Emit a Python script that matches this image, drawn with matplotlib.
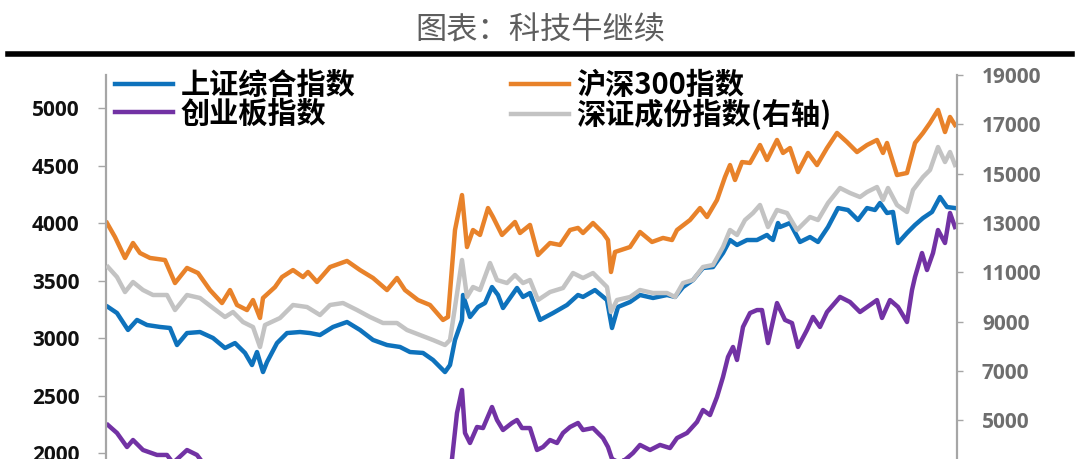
import matplotlib.pyplot as plt
from matplotlib.lines import Line2D

# trading-day index (approx.) and index levels
sh_days = [2, 11, 22, 31, 41, 54, 64, 71, 81, 94, 107, 119, 129, 139, 146, 151, 157, 161, 171, 181,
           194, 204, 214, 227, 241, 254, 267, 281, 294, 304, 317, 327, 339, 344, 349, 356, 357, 364,
           372, 379, 386, 392, 397, 411, 417, 424, 434, 447, 461, 472, 477, 489, 501, 506, 512, 524,
           534, 547, 561, 569, 577, 587, 597, 607, 617, 624, 631, 641, 651, 661, 664, 667, 672, 674,
           684, 694, 704, 712, 722, 732, 742, 752, 761, 769, 774, 781, 787, 792, 801, 809, 817, 826,
           834, 841, 849]
sh_comp = [3270, 3217, 3070, 3157, 3113, 3096, 3087, 2939, 3043, 3052, 3000, 2913, 2956, 2870, 2765,
           2878, 2704, 2791, 2956, 3043, 3052, 3043, 3026, 3096, 3139, 3070, 2983, 2939, 2922, 2878,
           2870, 2809, 2704, 2765, 2983, 3157, 3374, 3183, 3270, 3304, 3443, 3374, 3261, 3435, 3357,
           3391, 3157, 3217, 3287, 3374, 3357, 3417, 3330, 3087, 3270, 3313, 3374, 3348, 3374, 3357,
           3443, 3504, 3609, 3617, 3739, 3852, 3809, 3852, 3852, 3896, 3870, 3852, 4000, 3965, 4000,
           3835, 3878, 3835, 3965, 4130, 4113, 4026, 4130, 4113, 4174, 4087, 4096, 3826, 3913, 3983,
           4043, 4096, 4226, 4139, 4130]

hs_days = [1, 9, 19, 27, 34, 44, 59, 69, 81, 92, 104, 116, 124, 131, 141, 147, 154, 157, 169, 176,
           187, 197, 202, 211, 224, 241, 254, 267, 281, 291, 299, 312, 324, 337, 342, 349, 356, 361,
           367, 374, 382, 387, 396, 409, 414, 424, 432, 444, 454, 464, 472, 477, 487, 497, 502, 505,
           509, 524, 534, 546, 557, 566, 571, 584, 594, 601, 611, 619, 624, 629, 636, 644, 654, 661,
           671, 677, 684, 692, 702, 711, 721, 731, 741, 751, 761, 771, 777, 781, 791, 801, 809, 817,
           824, 832, 839, 844, 849]
hs300 = [4000, 3878, 3696, 3826, 3739, 3696, 3678, 3478, 3609, 3565, 3417, 3304, 3417, 3287, 3243,
         3330, 3174, 3348, 3443, 3530, 3591, 3530, 3574, 3487, 3617, 3670, 3591, 3522, 3417, 3522,
         3417, 3330, 3287, 3157, 3183, 3939, 4243, 3791, 3939, 3896, 4130, 4052, 3896, 4009, 3913,
         3983, 3722, 3826, 3809, 3939, 3957, 3913, 4000, 3913, 3852, 3574, 3748, 3791, 3922, 3835,
         3870, 3852, 3939, 4026, 4130, 4052, 4200, 4400, 4504, 4374, 4530, 4522, 4678, 4548, 4722,
         4609, 4652, 4443, 4609, 4504, 4652, 4783, 4704, 4617, 4678, 4722, 4609, 4696, 4417, 4435,
         4696, 4783, 4870, 4983, 4791, 4922, 4852]

cy_days = [2, 11, 21, 27, 37, 51, 61, 67, 81, 91, 97, 115, 140, 157, 175, 200, 241, 280, 320, 339,
           346, 351, 356, 359, 364, 371, 377, 386, 391, 397, 406, 411, 416, 424, 431, 437, 444, 451,
           457, 464, 472, 477, 487, 497, 502, 506, 512, 519, 527, 534, 544, 554, 564, 571, 581, 591,
           597, 604, 611, 617, 622, 627, 631, 637, 644, 651, 656, 662, 671, 679, 686, 692, 701, 707,
           714, 721, 734, 744, 754, 764, 771, 776, 784, 792, 801, 806, 809, 816, 821, 827, 832, 839,
           844, 849]
cyb = [2243, 2174, 2052, 2113, 2026, 1983, 1983, 1913, 2026, 1983, 1913, 1870, 1800, 1700, 1760,
       1800, 1830, 1760, 1680, 1620, 1948, 2348, 2548, 2174, 2087, 2226, 2217, 2400, 2287, 2200,
       2261, 2287, 2217, 2217, 2026, 2052, 2113, 2087, 2174, 2226, 2261, 2200, 2217, 2130, 2052,
       1948, 1922, 1940, 2000, 2070, 2026, 2070, 2043, 2130, 2174, 2270, 2374, 2330, 2487, 2661,
       2835, 2922, 2809, 3096, 3217, 3243, 3243, 2956, 3304, 3157, 3130, 2922, 3070, 3183, 3096,
       3226, 3357, 3313, 3226, 3287, 3330, 3174, 3330, 3270, 3139, 3417, 3530, 3739, 3591, 3739,
       3939, 3826, 4087, 3965]

sz_days = [2, 11, 19, 27, 37, 47, 61, 69, 81, 94, 107, 119, 127, 137, 147, 154, 159, 174, 187, 201,
           214, 224, 237, 251, 264, 277, 291, 301, 314, 327, 339, 344, 349, 356, 361, 367, 374, 384,
           391, 401, 409, 417, 424, 432, 444, 457, 467, 477, 487, 501, 505, 511, 524, 534, 547, 561,
           569, 577, 587, 597, 607, 617, 624, 631, 639, 647, 654, 662, 671, 681, 691, 704, 712, 722,
           734, 744, 754, 761, 771, 777, 782, 791, 801, 807, 817, 824, 832, 839, 844, 849]
sz_comp = [11211, 10805, 10196, 10602, 10277, 10075, 10075, 9466, 10075, 9953, 9547, 9182, 9385, 8979,
           8776, 7965, 8857, 9141, 9669, 9588, 9263, 9669, 9750, 9466, 9182, 8939, 8939, 8655, 8452,
           8249, 8046, 8249, 9588, 11495, 9993, 10399, 10277, 11373, 10683, 10561, 10886, 10561, 10683,
           9872, 10196, 10359, 10967, 10764, 10967, 10399, 9385, 9872, 9993, 10277, 10156, 10156, 9993,
           10561, 10683, 11211, 11292, 12022, 12712, 12509, 13117, 13401, 13726, 12833, 13523, 13401,
           12712, 13239, 13117, 13807, 14416, 14213, 14050, 14253, 14456, 13929, 14416, 13726, 13442,
           14334, 14862, 15146, 16079, 15470, 15876, 15349]

labels = ['上证综合指数', '沪深300指数', '创业板指数', '深证成份指数(右轴)']
left_ticks = [2000, 2500, 3000, 3500, 4000, 4500, 5000]
right_ticks = [5000, 7000, 9000, 11000, 13000, 15000, 17000, 19000]

fig = plt.figure(figsize=(10.8, 4.59), dpi=100)
# the plot area runs below the bottom edge of the picture (cropped like the reference)
ax = fig.add_axes([106 / 1080, 1 - 518.7 / 459, 851 / 1080, (518.7 - 75) / 459])
ax2 = ax.twinx()

l1, = ax.plot(sh_days, sh_comp, color='#0E72BC', lw=3.2, solid_joinstyle='round')
l2, = ax.plot(hs_days, hs300, color='#E8822A', lw=3.2, solid_joinstyle='round')
l3, = ax.plot(cy_days, cyb, color='#7232A4', lw=3.2, solid_joinstyle='round')
l4, = ax2.plot(sz_days, sz_comp, color='#C3C3C3', lw=3.2, solid_joinstyle='round')

ax.set_xlim(0, 851)
ax.set_ylim(5000 - (518.7 - 108) * 1000 / 115, 5000 + 33 * 1000 / 115)
ax2.set_ylim(1000, 19000)
ax.set_yticks(left_ticks)
ax2.set_yticks(right_ticks)
ax.set_xticks([])

for a in (ax, ax2):
    for s in a.spines.values():
        s.set_visible(False)
ax.spines['left'].set_visible(True)
ax.spines['left'].set_color('#A6A6A6')
ax.spines['left'].set_linewidth(1.6)
ax2.spines['right'].set_visible(True)
ax2.spines['right'].set_color('#A6A6A6')
ax2.spines['right'].set_linewidth(1.6)

ax.tick_params(axis='y', length=5.5, width=1, color='#A6A6A6', pad=13.5)
ax2.tick_params(axis='y', length=4.5, width=1, color='#A6A6A6', pad=13.5)
for t in ax.get_yticklabels():
    t.set_fontfamily('Open Sans')
    t.set_fontweight('bold')
    t.set_fontsize(15)
    t.set_color('#111111')
for t in ax2.get_yticklabels():
    t.set_fontfamily('Open Sans')
    t.set_fontweight('bold')
    t.set_fontsize(15)
    t.set_color('#6E6E6E')

# ncol=2 fills column by column: left column 上证/创业板, right column 沪深300/深证
leg = ax.legend([l1, l3, l2, l4], [labels[0], labels[2], labels[1], labels[3]], ncol=2,
                loc='upper left', bbox_to_anchor=(9 / 851, 1.011), frameon=False, borderpad=0,
                borderaxespad=0, handlelength=2.0, handletextpad=0.24, columnspacing=5.35,
                labelspacing=-0.05,
                prop={'family': ['Noto Sans CJK SC', 'DejaVu Sans'], 'weight': 'bold', 'size': 21})
for h in leg.legend_handles:
    h.set_linewidth(3.2)
leg.set_zorder(5)

fig.text(0.5, 1 - 31 / 459, '图表：科技牛继续', ha='center', va='center', fontsize=22.5,
         color='#5E5E5E', family=['Noto Sans CJK SC', 'DejaVu Sans'], fontweight='light')
fig.add_artist(Line2D([8 / 1080, 1072 / 1080], [1 - 54 / 459] * 2, color='black', lw=4,
                      transform=fig.transFigure))

fig.savefig('out.png', dpi=100)
